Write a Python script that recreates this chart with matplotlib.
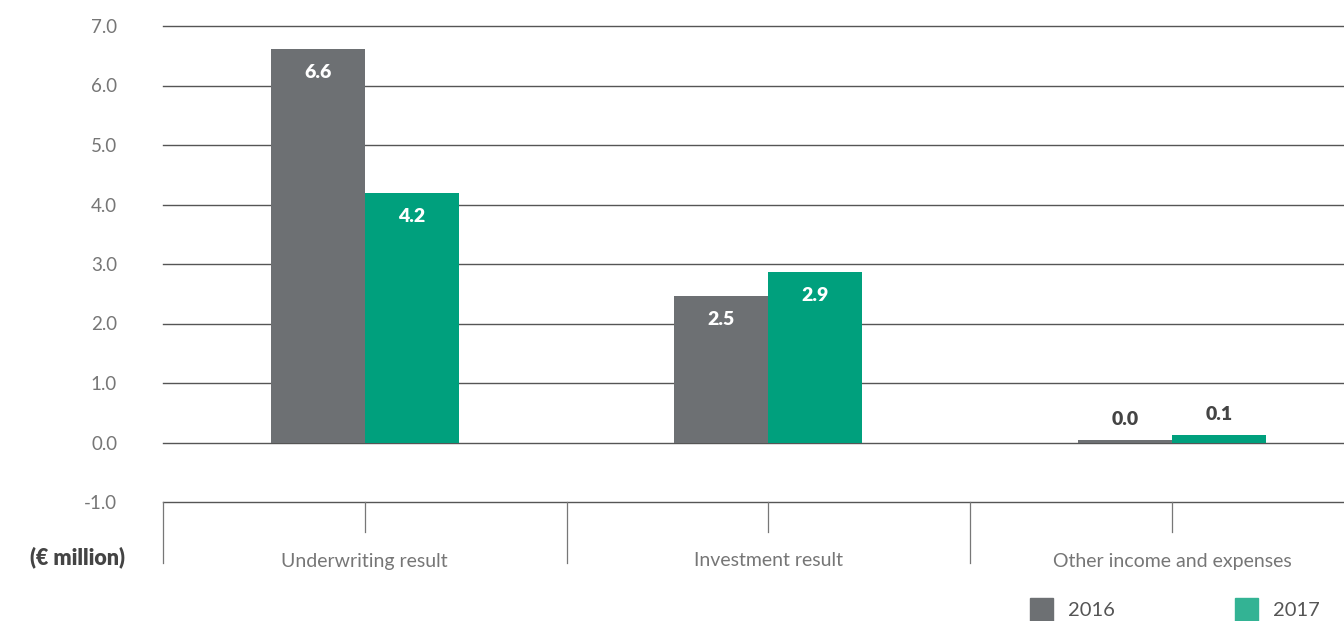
import matplotlib.pyplot as plt
import matplotlib.transforms as mtransforms

plt.rcParams['font.family'] = ['Lato', 'DejaVu Sans']

categories = ['Underwriting result', 'Investment result', 'Other income and expenses']
years = ['2016', '2017']
values_2016 = [6.61, 2.47, 0.04]
values_2017 = [4.20, 2.87, 0.12]
yticks = [-1.0, 0.0, 1.0, 2.0, 3.0, 4.0, 5.0, 6.0, 7.0]

GREY = '#6d7073'
GREEN = '#00a07d'
GREEN_KEY = '#33b394'
TEXT = '#767676'

fig = plt.figure(figsize=(13.44, 6.21), dpi=100)
ax = fig.add_axes([163 / 1344, 1 - 502 / 621, 1 - 163 / 1344, 476 / 621])

w = 0.233
x = list(range(len(categories)))
b16 = ax.bar([i - w / 2 for i in x], values_2016, w, color=GREY, zorder=3)
b17 = ax.bar([i + w / 2 for i in x], values_2017, w, color=GREEN, zorder=3)

# value labels: white inside tall bars, dark above the tiny ones
for bars, vals in ((b16, values_2016), (b17, values_2017)):
    for rect, v in zip(bars, vals):
        cx = rect.get_x() + rect.get_width() / 2
        if v > 1:
            ax.annotate(f'{v:.1f}', (cx, v), xytext=(0, -17), textcoords='offset points',
                        ha='center', va='center', color='white', fontsize=14,
                        fontweight='heavy', zorder=4)
        else:
            ax.annotate(f'{v:.1f}', (cx, v), xytext=(0, 15), textcoords='offset points',
                        ha='center', va='center', color='#444444', fontsize=14,
                        fontweight='heavy', zorder=4)

ax.set_ylim(-1, 7)
ax.set_xlim(-0.5, 2.426)
ax.set_yticks(yticks)
ax.set_yticklabels([f'{t:.1f}' for t in yticks], color=TEXT, fontsize=13.5)
ax.tick_params(axis='y', length=0, pad=33)
for t in yticks:
    ax.axhline(t, color='#555555', lw=1.0, zorder=1, clip_on=False)

for s in ax.spines.values():
    s.set_visible(False)

# category ticks and dividers hanging below the axis
ax.set_xticks(x)
ax.set_xticklabels([])
ax.tick_params(axis='x', length=0)
trans = mtransforms.blended_transform_factory(ax.transData, ax.transAxes)
for i in x:
    ax.plot([i, i], [0, -30 / 476], transform=trans, color='#777777', lw=0.9, clip_on=False)
    ax.text(i, -59 / 476, categories[i], transform=trans, ha='center', va='center',
            color=TEXT, fontsize=14)
for edge in (-0.5, 0.5, 1.5):
    ax.plot([edge, edge], [0, -61 / 476], transform=trans, color='#777777', lw=0.9,
            clip_on=False)

fig.text(78 / 1344, 1 - 557 / 621, '(€ million)', ha='center', va='center',
         color='#444444', fontsize=15.5, fontweight='heavy')

# legend keys along the bottom edge
for colour, lab, px in zip((GREY, GREEN_KEY), years, (1030, 1235)):
    fig.patches.append(plt.Rectangle((px / 1344, 0), 23 / 1344, 23 / 621,
                                     transform=fig.transFigure, color=colour, figure=fig))
    fig.text((px + 38) / 1344, 1 - 610 / 621, lab, ha='left', va='center',
             color='#555555', fontsize=14.5)

fig.savefig('out.png', dpi=100)
